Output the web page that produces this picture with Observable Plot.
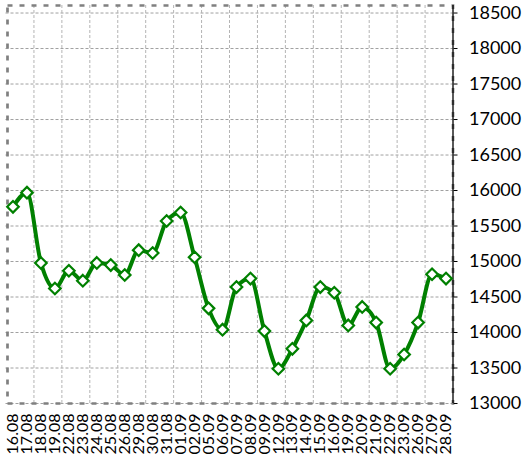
<!DOCTYPE html>
<html>
<head>
<meta charset="utf-8">
<script src="https://cdn.jsdelivr.net/npm/d3@7"></script>
<script src="https://cdn.jsdelivr.net/npm/@observablehq/plot@0.6"></script>
<style>
  html, body { margin: 0; padding: 0; background: #fff; }
  #chart svg { display: block; }
</style>
</head>
<body>
<div id="chart"></div>
<script>
const dates = ["16.08","17.08","18.08","19.08","22.08","23.08","24.08","25.08","26.08","29.08","30.08","31.08","01.09","02.09","05.09","06.09","07.09","08.09","09.09","12.09","13.09","14.09","15.09","16.09","19.09","20.09","21.09","22.09","23.09","26.09","27.09","28.09"];
const values = [15770,15970,14980,14620,14870,14730,14980,14950,14810,15160,15120,15570,15690,15060,14340,14040,14640,14760,14020,13490,13770,14170,14640,14560,14100,14360,14140,13490,13690,14140,14820,14760];
const yTicks = [13000,13500,14000,14500,15000,15500,16000,16500,17000,17500,18000,18500];

const data = dates.map((d, i) => ({i, date: d, value: values[i]}));
const xDomain = [-0.5, dates.length - 0.5];
const xGrid = d3.range(1.5, dates.length - 1, 2);

const chart = Plot.plot({
  width: 527,
  height: 459,
  marginLeft: 5.5,
  marginRight: 74.5,
  marginTop: 5,
  marginBottom: 56,
  style: {fontFamily: "Lato, sans-serif", color: "#000", background: "#fff"},
  x: {type: "linear", domain: xDomain},
  y: {domain: [13000, 18606]},
  marks: [
    Plot.gridY(yTicks, {stroke: "#a0a0a0", strokeOpacity: 1, strokeDasharray: "3,2"}),
    Plot.gridX(xGrid, {stroke: "#b4b4b4", strokeOpacity: 1, strokeDasharray: "3,2"}),
    Plot.frame({stroke: "#808080", strokeWidth: 2.7, strokeDasharray: "5,7", insetLeft: 1.5}),
    Plot.ruleX([xDomain[1]], {stroke: "#000", strokeWidth: 1.3}),
    Plot.axisY(yTicks, {anchor: "right", tickSize: 4, tickPadding: 12, fontSize: 18, label: null, stroke: "#000", tickFormat: d => String(d)}),
    Plot.axisX(d3.range(dates.length), {anchor: "bottom", tickSize: 0, tickPadding: 10, tickRotate: -90, fontSize: 16, label: null, tickFormat: i => dates[i]}),
    Plot.line(data, {x: "i", y: "value", curve: "monotone-x", stroke: "#008000", strokeWidth: 4}),
    Plot.dot(data, {x: "i", y: "value", symbol: "diamond2", r: 5.2, fill: "#fff", stroke: "#008000", strokeWidth: 2.2})
  ]
});
document.getElementById("chart").appendChild(chart);
</script>
</body>
</html>
